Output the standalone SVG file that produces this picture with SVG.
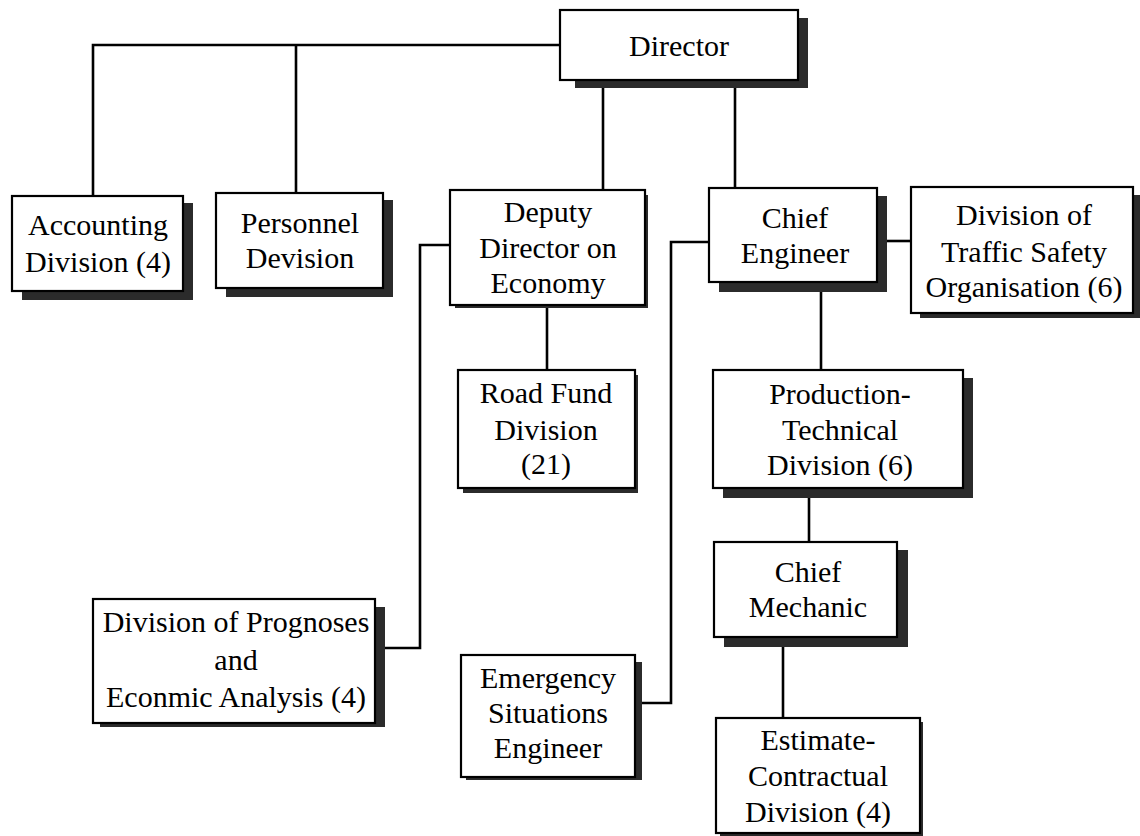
<svg xmlns="http://www.w3.org/2000/svg" width="1140" height="836" viewBox="0 0 1140 836">
<style>
.sh{fill:#2b2b2b}
.bx{fill:#fff;stroke:#000;stroke-width:2.2}
.t{font-family:"Liberation Serif","Times New Roman",serif;font-size:30px;fill:#000;text-anchor:middle}
.c{fill:none;stroke:#000;stroke-width:2.6}
</style>
<rect width="1140" height="836" fill="#fff"/>
<g id="connectors">
<path class="c" d="M560 45 H93 V196 M296 45 V193"/>
<path class="c" d="M603 80 V190"/>
<path class="c" d="M735 80 V188"/>
<path class="c" d="M547 305 V370"/>
<path class="c" d="M450 245 H420 V648 H385"/>
<path class="c" d="M709 242 H671 V703 H642"/>
<path class="c" d="M887 241 H911"/>
<path class="c" d="M821 292 V370"/>
<path class="c" d="M809 498 V542"/>
<path class="c" d="M783 647 V718"/>
</g>
<g id="director">
<rect class="sh" x="575" y="18" width="233" height="70"/>
<rect class="bx" x="560" y="10" width="238" height="70"/>
<text class="t" x="679" y="56">Director</text>
</g>
<g id="accounting">
<rect class="sh" x="22" y="203" width="171" height="97"/>
<rect class="bx" x="12" y="196" width="171" height="95"/>
<text class="t" x="98" y="235">Accounting</text>
<text class="t" x="98" y="272">Division (4)</text>
</g>
<g id="personnel">
<rect class="sh" x="226" y="200" width="167" height="97"/>
<rect class="bx" x="216" y="193" width="167" height="95"/>
<text class="t" x="300" y="233">Personnel</text>
<text class="t" x="300" y="268">Devision</text>
</g>
<g id="deputy">
<rect class="sh" x="455" y="195" width="193" height="113"/>
<rect class="bx" x="450" y="190" width="195" height="115"/>
<text class="t" x="548" y="222">Deputy</text>
<text class="t" x="548" y="258">Director on</text>
<text class="t" x="548" y="293">Economy</text>
</g>
<g id="roadfund">
<rect class="sh" x="463" y="375" width="175" height="118"/>
<rect class="bx" x="458" y="370" width="177" height="118"/>
<text class="t" x="546" y="403">Road Fund</text>
<text class="t" x="546" y="440">Division</text>
<text class="t" x="546" y="474">(21)</text>
</g>
<g id="chief-engineer">
<rect class="sh" x="719" y="196" width="168" height="96"/>
<rect class="bx" x="709" y="188" width="168" height="94"/>
<text class="t" x="795" y="228">Chief</text>
<text class="t" x="795" y="263">Engineer</text>
</g>
<g id="traffic-safety">
<rect class="sh" x="920" y="195" width="220" height="123"/>
<rect class="bx" x="911" y="187" width="222" height="126"/>
<text class="t" x="1024" y="225">Division of</text>
<text class="t" x="1024" y="262">Traffic Safety</text>
<text class="t" x="1024" y="297">Organisation (6)</text>
</g>
<g id="production">
<rect class="sh" x="723" y="378" width="250" height="120"/>
<rect class="bx" x="713" y="370" width="250" height="118"/>
<text class="t" x="840" y="404">Production-</text>
<text class="t" x="840" y="440">Technical</text>
<text class="t" x="840" y="475">Division (6)</text>
</g>
<g id="chief-mechanic">
<rect class="sh" x="724" y="550" width="184" height="97"/>
<rect class="bx" x="714" y="542" width="183" height="95"/>
<text class="t" x="808" y="582">Chief</text>
<text class="t" x="808" y="617">Mechanic</text>
</g>
<g id="estimate">
<rect class="sh" x="720" y="722" width="203" height="114"/>
<rect class="bx" x="716" y="718" width="204" height="115"/>
<text class="t" x="818" y="750">Estimate-</text>
<text class="t" x="818" y="786">Contractual</text>
<text class="t" x="818" y="822">Division (4)</text>
</g>
<g id="prognoses">
<rect class="sh" x="100" y="607" width="285" height="120"/>
<rect class="bx" x="93" y="599" width="282" height="124"/>
<text class="t" x="236" y="632">Division of Prognoses</text>
<text class="t" x="236" y="670">and</text>
<text class="t" x="236" y="707">Econmic Analysis (4)</text>
</g>
<g id="emergency">
<rect class="sh" x="466" y="662" width="176" height="118"/>
<rect class="bx" x="461" y="655" width="174" height="122"/>
<text class="t" x="548" y="688">Emergency</text>
<text class="t" x="548" y="723">Situations</text>
<text class="t" x="548" y="758">Engineer</text>
</g>
</svg>
